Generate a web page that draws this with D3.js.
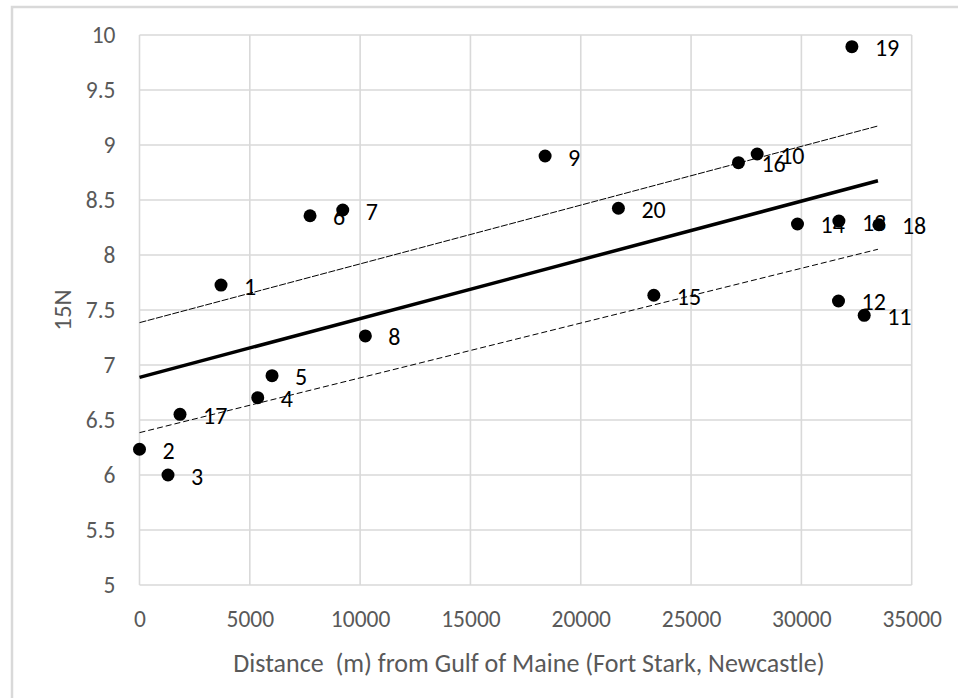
<!DOCTYPE html>
<html>
<head>
<meta charset="utf-8">
<script src="https://cdn.jsdelivr.net/npm/d3@7"></script>
<style>
  html, body { margin: 0; padding: 0; background: #fff; }
  svg { display: block; }
  text { font-family: Carlito, Calibri, "Open Sans", sans-serif; white-space: pre; }
</style>
</head>
<body>
<svg id="chart" width="958" height="698"></svg>
<script>
// Sample sites: label, distance (m) from the Gulf of Maine, and 15N value
const siteLabels = ["1","2","3","4","5","6","7","8","9","10","11","12","13","14","15","16","17","18","19","20"];
const distances = [3695, 0, 1292, 5359, 6007, 7730, 9212, 10237, 18384, 27996, 32847, 31682, 31700, 29823, 23312, 27148, 1836, 33513, 32289, 21707];
const n15Values = [7.727, 6.234, 6.0, 6.703, 6.903, 8.357, 8.409, 7.264, 8.9, 8.918, 7.452, 7.582, 8.309, 8.282, 7.634, 8.839, 6.552, 8.275, 9.894, 8.425];

// Trend line and its upper / lower bands, given by their end points
const trendX = [0, 33470];
const trendMid = [6.888, 8.675];
const trendUpper = [7.385, 9.173];
const trendLower = [6.385, 8.052];

// Axis ticks
const xTicks = [0, 5000, 10000, 15000, 20000, 25000, 30000, 35000];
const yTicks = [5, 5.5, 6, 6.5, 7, 7.5, 8, 8.5, 9, 9.5, 10];

const xTitle = "Distance  (m) from Gulf of Maine (Fort Stark, Newcastle)";
const yTitle = "15N";

const svg = d3.select("#chart");
const plot = { left: 139.5, right: 911.7, top: 35, bottom: 585 };

// Chart frame (only the top and left edges fall inside the page)
svg.append("rect")
  .attr("x", 12).attr("y", 7)
  .attr("width", 1000).attr("height", 800)
  .attr("fill", "#fff")
  .attr("stroke", "#d9d9d9")
  .attr("stroke-width", 2.5);

const x = d3.scaleLinear().domain([0, 35000]).range([plot.left, plot.right]);
const y = d3.scaleLinear().domain([5, 10]).range([plot.bottom, plot.top]);

// Gridlines
const grid = svg.append("g").attr("stroke", "#d9d9d9").attr("stroke-width", 1.6);
grid.selectAll("line.h").data(yTicks).join("line")
  .attr("class", "h")
  .attr("x1", plot.left).attr("x2", plot.right)
  .attr("y1", d => y(d)).attr("y2", d => y(d));
grid.selectAll("line.v").data(xTicks).join("line")
  .attr("class", "v")
  .attr("x1", d => x(d)).attr("x2", d => x(d))
  .attr("y1", plot.top).attr("y2", plot.bottom);

// Axes (labels only)
const xAxis = svg.append("g")
  .attr("transform", `translate(0,${plot.bottom})`)
  .call(d3.axisBottom(x).tickValues(xTicks).tickFormat(d3.format("d")).tickSize(0));
xAxis.select(".domain").remove();
xAxis.selectAll("text")
  .attr("y", 34)
  .attr("dy", "0.35em")
  .attr("fill", "#595959")
  .style("font-size", "23.5px");

const yAxis = svg.append("g")
  .attr("transform", `translate(${plot.left},0)`)
  .call(d3.axisLeft(y).tickValues(yTicks).tickFormat(d3.format("~g")).tickSize(0).tickPadding(24));
yAxis.select(".domain").remove();
yAxis.selectAll("text")
  .attr("fill", "#595959")
  .style("font-size", "23.5px");

// Axis titles
svg.append("text")
  .attr("x", 529)
  .attr("y", 663)
  .attr("text-anchor", "middle")
  .attr("dominant-baseline", "central")
  .attr("fill", "#595959")
  .style("font-size", "26px")
  .text(xTitle);

svg.append("text")
  .attr("transform", `translate(62,${(plot.top + plot.bottom) / 2}) rotate(-90)`)
  .attr("text-anchor", "middle")
  .attr("dominant-baseline", "central")
  .attr("fill", "#595959")
  .style("font-size", "25px")
  .text(yTitle);

// Trend lines
const line = d3.line().x(d => x(d[0])).y(d => y(d[1]));
const trendSets = [
  { vals: trendUpper, width: 1, dash: "7,1.5" },
  { vals: trendLower, width: 1, dash: "6,3" },
  { vals: trendMid, width: 3.5, dash: null }
];
svg.append("g").selectAll("path").data(trendSets).join("path")
  .attr("d", s => line(trendX.map((xv, i) => [xv, s.vals[i]])))
  .attr("fill", "none")
  .attr("stroke", "#000")
  .attr("stroke-width", s => s.width)
  .attr("stroke-dasharray", s => s.dash);

// Sample points
const sites = siteLabels.map((lab, i) => ({ label: lab, dist: distances[i], n15: n15Values[i] }));
svg.append("g").selectAll("circle").data(sites).join("circle")
  .attr("cx", d => x(d.dist))
  .attr("cy", d => y(d.n15))
  .attr("r", 6.5)
  .attr("fill", "#000");

// Site labels
svg.append("g").selectAll("text").data(sites).join("text")
  .attr("x", d => x(d.dist) + 23)
  .attr("y", d => y(d.n15) + 1)
  .attr("dominant-baseline", "central")
  .attr("fill", "#000")
  .style("font-size", "24px")
  .text(d => d.label);
</script>
</body>
</html>
